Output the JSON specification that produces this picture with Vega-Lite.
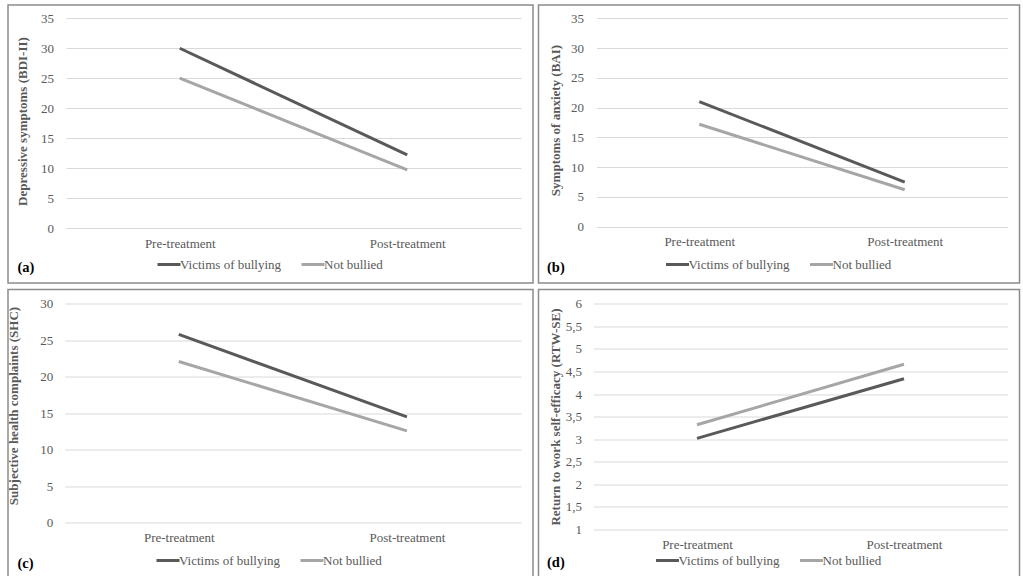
{
  "$schema": "https://vega.github.io/schema/vega-lite/v6.json",
  "background": "white",
  "padding": {"left": 6, "top": 4, "right": 0, "bottom": 0},
  "spacing": 4.5,
  "resolve": {"scale": {"color": "independent", "x": "independent", "y": "independent"}, "legend": {"color": "independent"}, "axis": {"x": "independent", "y": "independent"}},
  "datasets": {
    "bdi": [
      {"time": "Pre-treatment", "group": "Victims of bullying", "value": 30},
      {"time": "Post-treatment", "group": "Victims of bullying", "value": 12.2},
      {"time": "Pre-treatment", "group": "Not bullied", "value": 25},
      {"time": "Post-treatment", "group": "Not bullied", "value": 9.7}
    ],
    "bai": [
      {"time": "Pre-treatment", "group": "Victims of bullying", "value": 21},
      {"time": "Post-treatment", "group": "Victims of bullying", "value": 7.5},
      {"time": "Pre-treatment", "group": "Not bullied", "value": 17.2},
      {"time": "Post-treatment", "group": "Not bullied", "value": 6.2}
    ],
    "shc": [
      {"time": "Pre-treatment", "group": "Victims of bullying", "value": 25.8},
      {"time": "Post-treatment", "group": "Victims of bullying", "value": 14.5},
      {"time": "Pre-treatment", "group": "Not bullied", "value": 22.1},
      {"time": "Post-treatment", "group": "Not bullied", "value": 12.6}
    ],
    "rtw": [
      {"time": "Pre-treatment", "group": "Victims of bullying", "value": 3.02},
      {"time": "Post-treatment", "group": "Victims of bullying", "value": 4.34},
      {"time": "Pre-treatment", "group": "Not bullied", "value": 3.32},
      {"time": "Post-treatment", "group": "Not bullied", "value": 4.66}
    ]
  },
  "config": {
    "view": {"stroke": "#8c8c8c", "strokeWidth": 1.5},
    "font": "Liberation Serif",
    "axis": {
      "labelFont": "Liberation Serif", "labelFontSize": 13, "labelColor": "#595959",
      "titleFont": "Liberation Serif", "titleFontSize": 13, "titleFontWeight": "bold", "titleColor": "#595959",
      "domain": false, "ticks": false, "tickSize": 0, "gridColor": "#d9d9d9", "gridWidth": 1
    },
    "axisX": {"grid": false, "labelAngle": 0, "labelPadding": 9, "labelBaseline": "top", "titleAlign": "left", "titleBaseline": "middle", "titleFontSize": 14.5, "titleColor": "#000000"},
    "axisY": {"grid": true, "titleBaseline": "alphabetic", "titleAlign": "center", "titleAngle": -90, "labelAlign": "right", "labelBaseline": "middle"},
    "legend": {
      "symbolType": "stroke", "symbolStrokeWidth": 3, "symbolSize": 529, "labelOffset": -2, "columnPadding": 13, "padding": 0,
      "labelFont": "Liberation Serif", "labelFontSize": 13, "labelColor": "#595959", "direction": "horizontal", "title": null
    },
    "line": {"strokeWidth": 3, "strokeCap": "butt"}
  },
  "vconcat": [
    {
      "spacing": 3.5,
      "resolve": {"scale": {"color": "independent", "x": "independent", "y": "independent"}, "legend": {"color": "independent"}},
      "hconcat": [
        {
          "width": 525, "height": 278,
          "data": {"name": "bdi"},
          "mark": {"type": "line", "strokeWidth": 3},
          "encoding": {
            "x": {"field": "time", "type": "ordinal", "sort": ["Pre-treatment", "Post-treatment"],
                  "scale": {"type": "point", "range": [58, 513], "padding": 0.5},
                  "axis": {"title": "(a)", "offset": -55, "titleX": 9, "titleY": 39.5}},
            "y": {"field": "value", "type": "quantitative",
                  "scale": {"domain": [0, 35], "range": [223, 13.3], "nice": false, "zero": false},
                  "axis": {"title": "Depressive symptoms (BDI-II)", "values": [0, 5, 10, 15, 20, 25, 30, 35], "offset": -58, "labelPadding": 12.5, "titleX": -39.5, "titleY": 116}},
            "color": {"field": "group", "type": "nominal", "sort": ["Victims of bullying", "Not bullied"],
                      "scale": {"domain": ["Victims of bullying", "Not bullied"], "range": ["#595959", "#a6a6a6"]},
                      "legend": {"orient": "none", "legendX": 148, "legendY": 246.5, "direction": "horizontal", "title": null}}
          }
        },
        {
          "width": 481, "height": 278,
          "data": {"name": "bai"},
          "mark": {"type": "line", "strokeWidth": 3},
          "encoding": {
            "x": {"field": "time", "type": "ordinal", "sort": ["Pre-treatment", "Post-treatment"],
                  "scale": {"type": "point", "range": [58, 469], "padding": 0.5},
                  "axis": {"title": "(b)", "offset": -56.3, "titleX": 8, "titleY": 41}},
            "y": {"field": "value", "type": "quantitative",
                  "scale": {"domain": [0, 35], "range": [221.7, 13.3], "nice": false, "zero": false},
                  "axis": {"title": "Symptoms of anxiety (BAI)", "values": [0, 5, 10, 15, 20, 25, 30, 35], "offset": -58, "labelPadding": 13, "titleX": -37, "titleY": 115}},
            "color": {"field": "group", "type": "nominal", "sort": ["Victims of bullying", "Not bullied"],
                      "scale": {"domain": ["Victims of bullying", "Not bullied"], "range": ["#595959", "#a6a6a6"]},
                      "legend": {"orient": "none", "legendX": 126, "legendY": 246.5, "direction": "horizontal", "title": null}}
          }
        }
      ]
    },
    {
      "spacing": 3.5,
      "resolve": {"scale": {"color": "independent", "x": "independent", "y": "independent"}, "legend": {"color": "independent"}},
      "hconcat": [
        {
          "width": 525, "height": 290,
          "data": {"name": "shc"},
          "mark": {"type": "line", "strokeWidth": 3},
          "encoding": {
            "x": {"field": "time", "type": "ordinal", "sort": ["Pre-treatment", "Post-treatment"],
                  "scale": {"type": "point", "range": [56.7, 513], "padding": 0.5},
                  "axis": {"title": "(c)", "offset": -56.7, "titleX": 9, "titleY": 40.5}},
            "y": {"field": "value", "type": "quantitative",
                  "scale": {"domain": [0, 30], "range": [233.3, 14.3], "nice": false, "zero": false},
                  "axis": {"title": "Subjective health complaints (SHC)", "values": [0, 5, 10, 15, 20, 25, 30], "offset": -56.7, "labelPadding": 12, "titleX": -47, "titleY": 116}},
            "color": {"field": "group", "type": "nominal", "sort": ["Victims of bullying", "Not bullied"],
                      "scale": {"domain": ["Victims of bullying", "Not bullied"], "range": ["#595959", "#a6a6a6"]},
                      "legend": {"orient": "none", "legendX": 147, "legendY": 258, "direction": "horizontal", "title": null}}
          }
        },
        {
          "width": 481, "height": 290,
          "data": {"name": "rtw"},
          "mark": {"type": "line", "strokeWidth": 3},
          "encoding": {
            "x": {"field": "time", "type": "ordinal", "sort": ["Pre-treatment", "Post-treatment"],
                  "scale": {"type": "point", "range": [55, 469], "padding": 0.5},
                  "axis": {"title": "(d)", "offset": -50, "titleX": 8, "titleY": 33}},
            "y": {"field": "value", "type": "quantitative",
                  "scale": {"domain": [1, 6], "range": [240, 14.3], "nice": false, "zero": false},
                  "axis": {"title": "Return to work self-efficacy (RTW-SE)", "values": [1, 1.5, 2, 2.5, 3, 3.5, 4, 4.5, 5, 5.5, 6], "labelExpr": "replace(toString(datum.value), '.', ',')", "offset": -55, "labelPadding": 12, "titleX": -34, "titleY": 127}},
            "color": {"field": "group", "type": "nominal", "sort": ["Victims of bullying", "Not bullied"],
                      "scale": {"domain": ["Victims of bullying", "Not bullied"], "range": ["#595959", "#a6a6a6"]},
                      "legend": {"orient": "none", "legendX": 116, "legendY": 258, "direction": "horizontal", "title": null}}
          }
        }
      ]
    }
  ]
}
